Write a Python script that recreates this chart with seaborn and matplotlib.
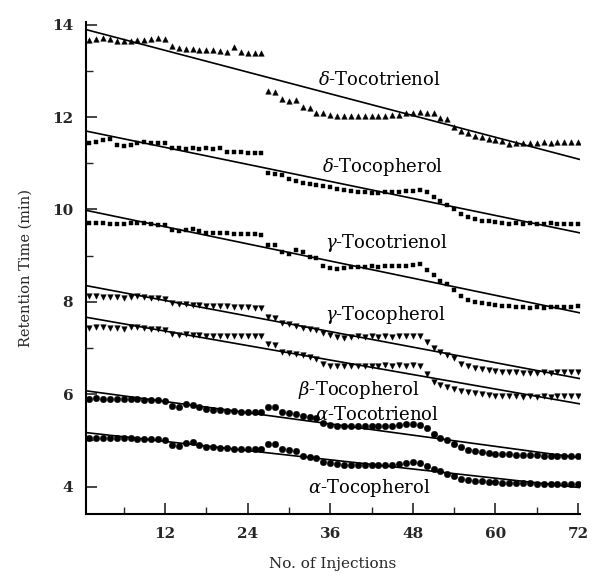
import numpy as np
import pandas as pd
import matplotlib
matplotlib.use("Agg")
import matplotlib.pyplot as plt
from matplotlib.ticker import MultipleLocator
import seaborn as sns

injections = list(range(1, 73))

d_tocotrienol = [13.68, 13.70, 13.72, 13.70, 13.66, 13.64, 13.66, 13.67, 13.68, 13.70, 13.72, 13.70,
                 13.54, 13.50, 13.48, 13.47, 13.46, 13.45, 13.45, 13.43, 13.42, 13.52, 13.42, 13.40,
                 13.40, 13.40, 12.57, 12.55, 12.40, 12.36, 12.38, 12.22, 12.20, 12.10, 12.08, 12.05,
                 12.03, 12.02, 12.03, 12.02, 12.02, 12.02, 12.03, 12.03, 12.04, 12.05, 12.08, 12.10,
                 12.12, 12.10, 12.08, 11.98, 11.97, 11.78, 11.70, 11.66, 11.60, 11.57, 11.52, 11.50,
                 11.48, 11.42, 11.45, 11.44, 11.45, 11.44, 11.46, 11.45, 11.46, 11.46, 11.47, 11.47]
d_tocopherol = [11.45, 11.46, 11.50, 11.52, 11.40, 11.38, 11.40, 11.44, 11.46, 11.45, 11.44, 11.45,
                11.34, 11.33, 11.32, 11.33, 11.32, 11.33, 11.32, 11.34, 11.25, 11.24, 11.24, 11.23,
                11.23, 11.23, 10.78, 10.77, 10.74, 10.66, 10.62, 10.58, 10.56, 10.52, 10.50, 10.48,
                10.45, 10.42, 10.40, 10.38, 10.37, 10.36, 10.36, 10.37, 10.38, 10.38, 10.39, 10.40,
                10.42, 10.38, 10.28, 10.18, 10.10, 10.02, 9.90, 9.84, 9.80, 9.76, 9.74, 9.72,
                9.70, 9.69, 9.70, 9.68, 9.70, 9.69, 9.68, 9.70, 9.68, 9.69, 9.68, 9.68]
g_tocotrienol = [9.70, 9.70, 9.70, 9.69, 9.68, 9.69, 9.70, 9.71, 9.70, 9.68, 9.67, 9.66,
                 9.55, 9.53, 9.56, 9.57, 9.54, 9.50, 9.49, 9.48, 9.48, 9.47, 9.47, 9.46,
                 9.46, 9.44, 9.24, 9.22, 9.08, 9.04, 9.12, 9.08, 8.98, 8.94, 8.78, 8.74,
                 8.72, 8.74, 8.75, 8.76, 8.76, 8.77, 8.76, 8.77, 8.78, 8.77, 8.78, 8.80,
                 8.82, 8.70, 8.58, 8.46, 8.38, 8.26, 8.12, 8.04, 8.00, 7.97, 7.95, 7.93,
                 7.92, 7.90, 7.88, 7.88, 7.87, 7.88, 7.87, 7.88, 7.88, 7.89, 7.89, 7.90]
g_tocopherol = [8.12, 8.12, 8.10, 8.11, 8.10, 8.08, 8.10, 8.12, 8.10, 8.09, 8.08, 8.07,
                7.97, 7.95, 7.96, 7.94, 7.93, 7.92, 7.91, 7.90, 7.90, 7.89, 7.88, 7.88,
                7.87, 7.86, 7.68, 7.66, 7.55, 7.52, 7.48, 7.44, 7.42, 7.38, 7.32, 7.28,
                7.24, 7.22, 7.24, 7.25, 7.24, 7.25, 7.24, 7.25, 7.24, 7.25, 7.26, 7.27,
                7.26, 7.12, 7.00, 6.92, 6.84, 6.78, 6.66, 6.60, 6.56, 6.54, 6.52, 6.50,
                6.49, 6.48, 6.47, 6.46, 6.46, 6.46, 6.47, 6.46, 6.47, 6.47, 6.48, 6.48]
b_tocopherol = [7.44, 7.46, 7.45, 7.44, 7.43, 7.42, 7.45, 7.46, 7.44, 7.42, 7.41, 7.40,
                7.30, 7.28, 7.30, 7.29, 7.28, 7.27, 7.27, 7.26, 7.27, 7.26, 7.26, 7.25,
                7.26, 7.25, 7.08, 7.06, 6.92, 6.90, 6.88, 6.84, 6.80, 6.76, 6.66, 6.62,
                6.60, 6.60, 6.61, 6.62, 6.61, 6.62, 6.62, 6.63, 6.62, 6.63, 6.62, 6.63,
                6.62, 6.44, 6.26, 6.20, 6.16, 6.12, 6.06, 6.04, 6.02, 6.00, 5.98, 5.97,
                5.96, 5.95, 5.95, 5.94, 5.95, 5.94, 5.95, 5.94, 5.95, 5.96, 5.96, 5.96]
a_tocotrienol = [5.90, 5.91, 5.90, 5.90, 5.89, 5.90, 5.89, 5.89, 5.88, 5.88, 5.87, 5.86,
                 5.74, 5.72, 5.78, 5.77, 5.72, 5.68, 5.66, 5.65, 5.64, 5.63, 5.62, 5.62,
                 5.61, 5.62, 5.72, 5.72, 5.62, 5.60, 5.58, 5.52, 5.50, 5.48, 5.38, 5.34,
                 5.32, 5.31, 5.30, 5.30, 5.30, 5.30, 5.31, 5.31, 5.32, 5.33, 5.35, 5.36,
                 5.34, 5.26, 5.14, 5.06, 5.00, 4.92, 4.86, 4.80, 4.76, 4.74, 4.72, 4.71,
                 4.70, 4.70, 4.69, 4.68, 4.68, 4.68, 4.67, 4.67, 4.67, 4.66, 4.66, 4.66]
a_tocopherol = [5.05, 5.06, 5.05, 5.05, 5.04, 5.05, 5.04, 5.03, 5.03, 5.02, 5.02, 5.01,
                4.90, 4.88, 4.95, 4.96, 4.90, 4.86, 4.85, 4.84, 4.83, 4.82, 4.82, 4.81,
                4.81, 4.82, 4.92, 4.91, 4.82, 4.80, 4.76, 4.66, 4.64, 4.62, 4.54, 4.50,
                4.48, 4.47, 4.46, 4.46, 4.46, 4.46, 4.46, 4.47, 4.47, 4.48, 4.50, 4.52,
                4.50, 4.45, 4.38, 4.34, 4.27, 4.22, 4.17, 4.14, 4.12, 4.11, 4.10, 4.09,
                4.08, 4.08, 4.07, 4.07, 4.07, 4.06, 4.06, 4.06, 4.06, 4.06, 4.06, 4.06]

series_names = ["d-T3", "d-T", "g-T3", "g-T", "b-T", "a-T3", "a-T"]
series_values = [d_tocotrienol, d_tocopherol, g_tocotrienol, g_tocopherol,
                 b_tocopherol, a_tocotrienol, a_tocopherol]
labels = [r"$\delta$-Tocotrienol", r"$\delta$-Tocopherol", r"$\gamma$-Tocotrienol",
          r"$\gamma$-Tocopherol", r"$\beta$-Tocopherol", r"$\alpha$-Tocotrienol",
          r"$\alpha$-Tocopherol"]
label_x = [34.2, 34.8, 35.2, 35.2, 31.3, 33.8, 32.8]
label_y = [12.81, 10.92, 9.28, 7.71, 6.09, 5.55, 3.96]

markers = {"d-T3": "^", "d-T": "s", "g-T3": "s", "g-T": "v", "b-T": "v", "a-T3": "o", "a-T": "o"}
msizes = {"d-T3": 16, "d-T": 12, "g-T3": 12, "g-T": 16, "b-T": 16, "a-T3": 22, "a-T": 22}

df = pd.DataFrame({
    "injection": np.tile(injections, len(series_names)),
    "rt": np.concatenate(series_values),
    "series": np.repeat(series_names, len(injections)),
})

sns.set_style("white")
plt.rcParams["font.family"] = ["DejaVu Serif"]
plt.rcParams["mathtext.fontset"] = "dejavuserif"

fig = plt.figure(figsize=(5.92, 5.83), dpi=100)
ax = fig.add_axes([0.145, 0.118, 0.835, 0.845])
ax.set_xlim(0.5, 72.3)
ax.set_ylim(3.4, 14.07)

for name in series_names:
    sub = df[df["series"] == name]
    sns.scatterplot(data=sub, x="injection", y="rt", marker=markers[name], s=msizes[name],
                    color="black", edgecolor="black", linewidth=0.3, ax=ax, legend=False)
    sns.regplot(data=sub, x="injection", y="rt", scatter=False, ci=None, truncate=False,
                color="black", line_kws={"lw": 1.2}, ax=ax)

for lab, lx, ly in zip(labels, label_x, label_y):
    ax.text(lx, ly, lab, fontsize=13, va="center", ha="left", color="black")

ax.set_xlim(0.5, 72.3)
ax.set_ylim(3.4, 14.07)
ax.xaxis.set_major_locator(MultipleLocator(12))
ax.xaxis.set_minor_locator(MultipleLocator(6))
ax.yaxis.set_major_locator(MultipleLocator(2))
ax.yaxis.set_minor_locator(MultipleLocator(1))
ax.tick_params(which="major", direction="in", length=8, width=1.2, labelsize=11, pad=9)
ax.tick_params(which="minor", direction="in", length=5, width=1.0)
ax.tick_params(axis="both", which="both", bottom=True, left=True)
for t in ax.get_xticklabels() + ax.get_yticklabels():
    t.set_fontweight("bold")
    t.set_family("DejaVu Serif")

for s in ["top", "right"]:
    ax.spines[s].set_visible(False)
for s in ["left", "bottom"]:
    ax.spines[s].set_color("black")
    ax.spines[s].set_linewidth(1.5)

ax.set_xlabel("No. of Injections", fontsize=11, labelpad=12)
ax.set_ylabel("Retention Time (min)", fontsize=10.5, labelpad=14)

fig.savefig("out.png", dpi=100)
